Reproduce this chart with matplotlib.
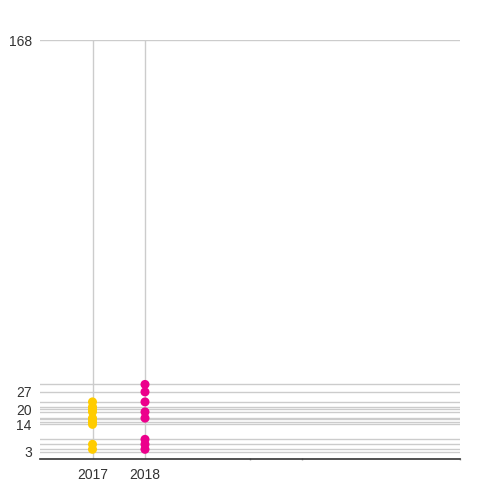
import matplotlib
matplotlib.use("Agg")
import matplotlib.pyplot as plt

# categories and values
years = ["2017", "2018"]
values_2017 = [23, 21, 20, 19, 16.5, 16, 15, 14, 6, 4]
values_2018 = [30, 27, 23, 19, 16.5, 8, 6, 4]
colors = ["#FFCC00", "#EC008C"]

# every value gets a gridline, only some get a label
grid_values = [3, 4, 6, 8, 14, 15, 16, 16.5, 19, 20, 21, 23, 27, 30, 168]
shown_labels = [3, 14, 20, 27, 168]

plt.rcParams['font.family'] = ['Liberation Sans', 'DejaVu Sans']

fig = plt.figure(figsize=(5, 5), dpi=100)
ax = fig.add_axes([0.08, 0.0814, 0.84, 0.8386])

ax.set_xlim(0, 8)
ax.set_ylim(0, 168)

# horizontal grid at each data value
for v in grid_values:
    ax.axhline(v, color="#cccccc", lw=1, zorder=1)

# vertical lines for the categories
for i in range(len(years)):
    ax.axvline(i + 1, color="#cccccc", lw=1, zorder=1)

for i, vals in enumerate([values_2017, values_2018]):
    ax.scatter([i + 1] * len(vals), vals, s=42, color=colors[i], edgecolors="none", zorder=3)

ax.set_yticks(grid_values)
ax.set_yticklabels([str(v) if v in shown_labels else "" for v in grid_values])
ax.tick_params(axis="y", length=0, pad=6, labelsize=10, labelcolor="#333333")

ax.set_xticks([1, 2])
ax.set_xticklabels(years)
ax.tick_params(axis="x", length=0, pad=6, labelsize=10, labelcolor="#333333")
ax.set_xticks([4, 5, 8], minor=True)
ax.tick_params(axis="x", which="minor", length=2, width=1, color="#aaaaaa", direction="inout")

for side in ["top", "right", "left"]:
    ax.spines[side].set_visible(False)
ax.spines["bottom"].set_color("#333333")
ax.spines["bottom"].set_linewidth(1.2)
ax.spines["bottom"].set_zorder(4)

fig.savefig("out.png", dpi=100)
